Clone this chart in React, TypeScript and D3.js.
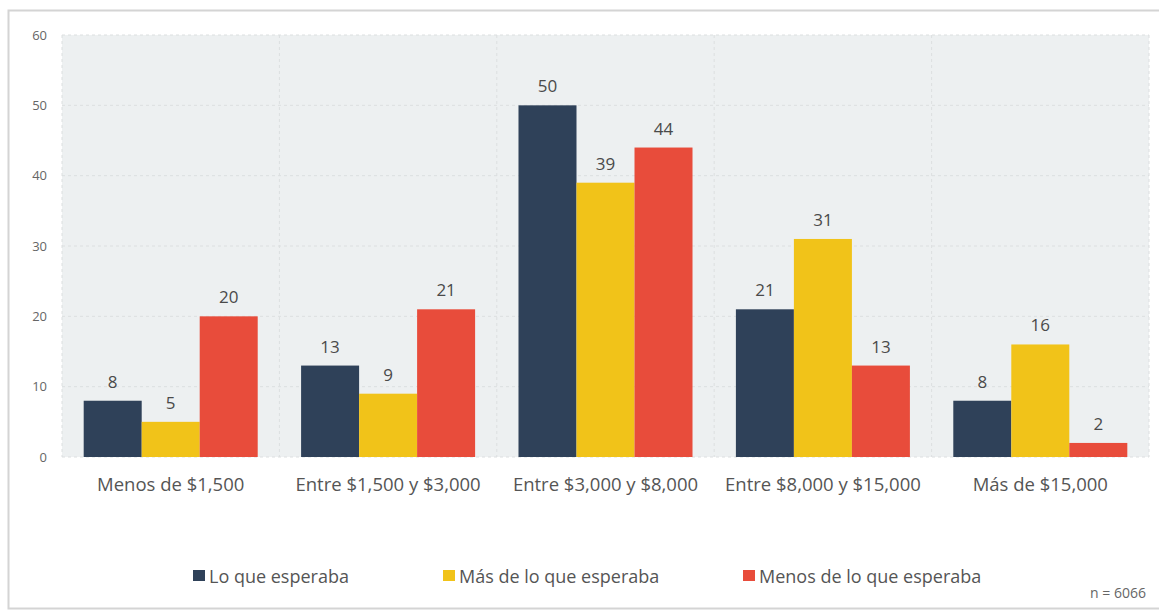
import React from "react";
import * as d3 from "d3";

const categories = ["Menos de $1,500", "Entre $1,500 y $3,000", "Entre $3,000 y $8,000", "Entre $8,000 y $15,000", "Más de $15,000"];
const seriesNames = ["Lo que esperaba", "Más de lo que esperaba", "Menos de lo que esperaba"];
const loQueEsperaba = [8, 13, 50, 21, 8];
const masDeLoQueEsperaba = [5, 9, 39, 31, 16];
const menosDeLoQueEsperaba = [20, 21, 44, 13, 2];
const yTicks = [0, 10, 20, 30, 40, 50, 60];
const colors = ["#2f4159", "#f1c319", "#e84c3b"];
const note = "n = 6066";

const W = 1159, H = 611;
const plot = { left: 62, right: 1149, top: 35, bottom: 457 };
const FONT = "'Open Sans', Lato, sans-serif";

export default function App() {
  const series = [loQueEsperaba, masDeLoQueEsperaba, menosDeLoQueEsperaba];
  const x = d3.scaleBand<string>().domain(categories).range([plot.left, plot.right]).padding(0);
  const xs = d3.scaleBand<number>().domain([0, 1, 2]).range([0, x.bandwidth()]).paddingInner(0).paddingOuter(0.374);
  const y = d3.scaleLinear().domain([0, 60]).range([plot.bottom, plot.top]);

  const legendX = [193, 443, 743];

  return (
    <svg width={W} height={H} style={{ position: "absolute", left: 0, top: 0, background: "#fff" }} fontFamily={FONT}>
      <rect x={8.5} y={10.5} width={1170} height={598} fill="#fff" stroke="#d4d4d4" strokeWidth={2} />
      <rect x={plot.left} y={plot.top} width={plot.right - plot.left} height={plot.bottom - plot.top} fill="#edf0f1" />
      {yTicks.map((t) => (
        <line key={"h" + t} x1={plot.left} x2={plot.right} y1={y(t)} y2={y(t)} stroke="#dcdfe0" strokeDasharray="3,3" strokeWidth={1} />
      ))}
      {categories.map((c, i) => (
        <line key={"v" + i} x1={x(c)!} x2={x(c)!} y1={plot.top} y2={plot.bottom} stroke="#dcdfe0" strokeDasharray="3,3" />
      ))}
      <line x1={plot.right} x2={plot.right} y1={plot.top} y2={plot.bottom} stroke="#dcdfe0" strokeDasharray="3,3" />
      {yTicks.map((t) => (
        <text key={"yt" + t} x={47} y={y(t) + 4.5} textAnchor="end" fontSize={13} fill="#666">{t}</text>
      ))}
      {categories.map((c, ci) =>
        series.map((s, si) => {
          const bx = x(c)! + xs(si)!;
          const v = s[ci];
          return (
            <g key={c + si}>
              <rect x={bx} y={y(v)} width={xs.bandwidth()} height={y(0) - y(v)} fill={colors[si]} />
              <text x={bx + xs.bandwidth() / 2} y={y(v) - 13} textAnchor="middle" fontSize={17} fill="#4a4a4a">{v}</text>
            </g>
          );
        })
      )}
      {categories.map((c) => (
        <text key={"xl" + c} x={x(c)! + x.bandwidth() / 2} y={491} textAnchor="middle" fontSize={18.5} fill="#555">{c}</text>
      ))}
      {seriesNames.map((n, i) => (
        <g key={n}>
          <rect x={legendX[i]} y={570} width={12} height={11} fill={colors[i]} />
          <text x={legendX[i] + 16} y={583} fontSize={18} fill="#555">{n}</text>
        </g>
      ))}
      <text x={1146} y={598} textAnchor="end" fontSize={14} fill="#666">{note}</text>
    </svg>
  );
}
